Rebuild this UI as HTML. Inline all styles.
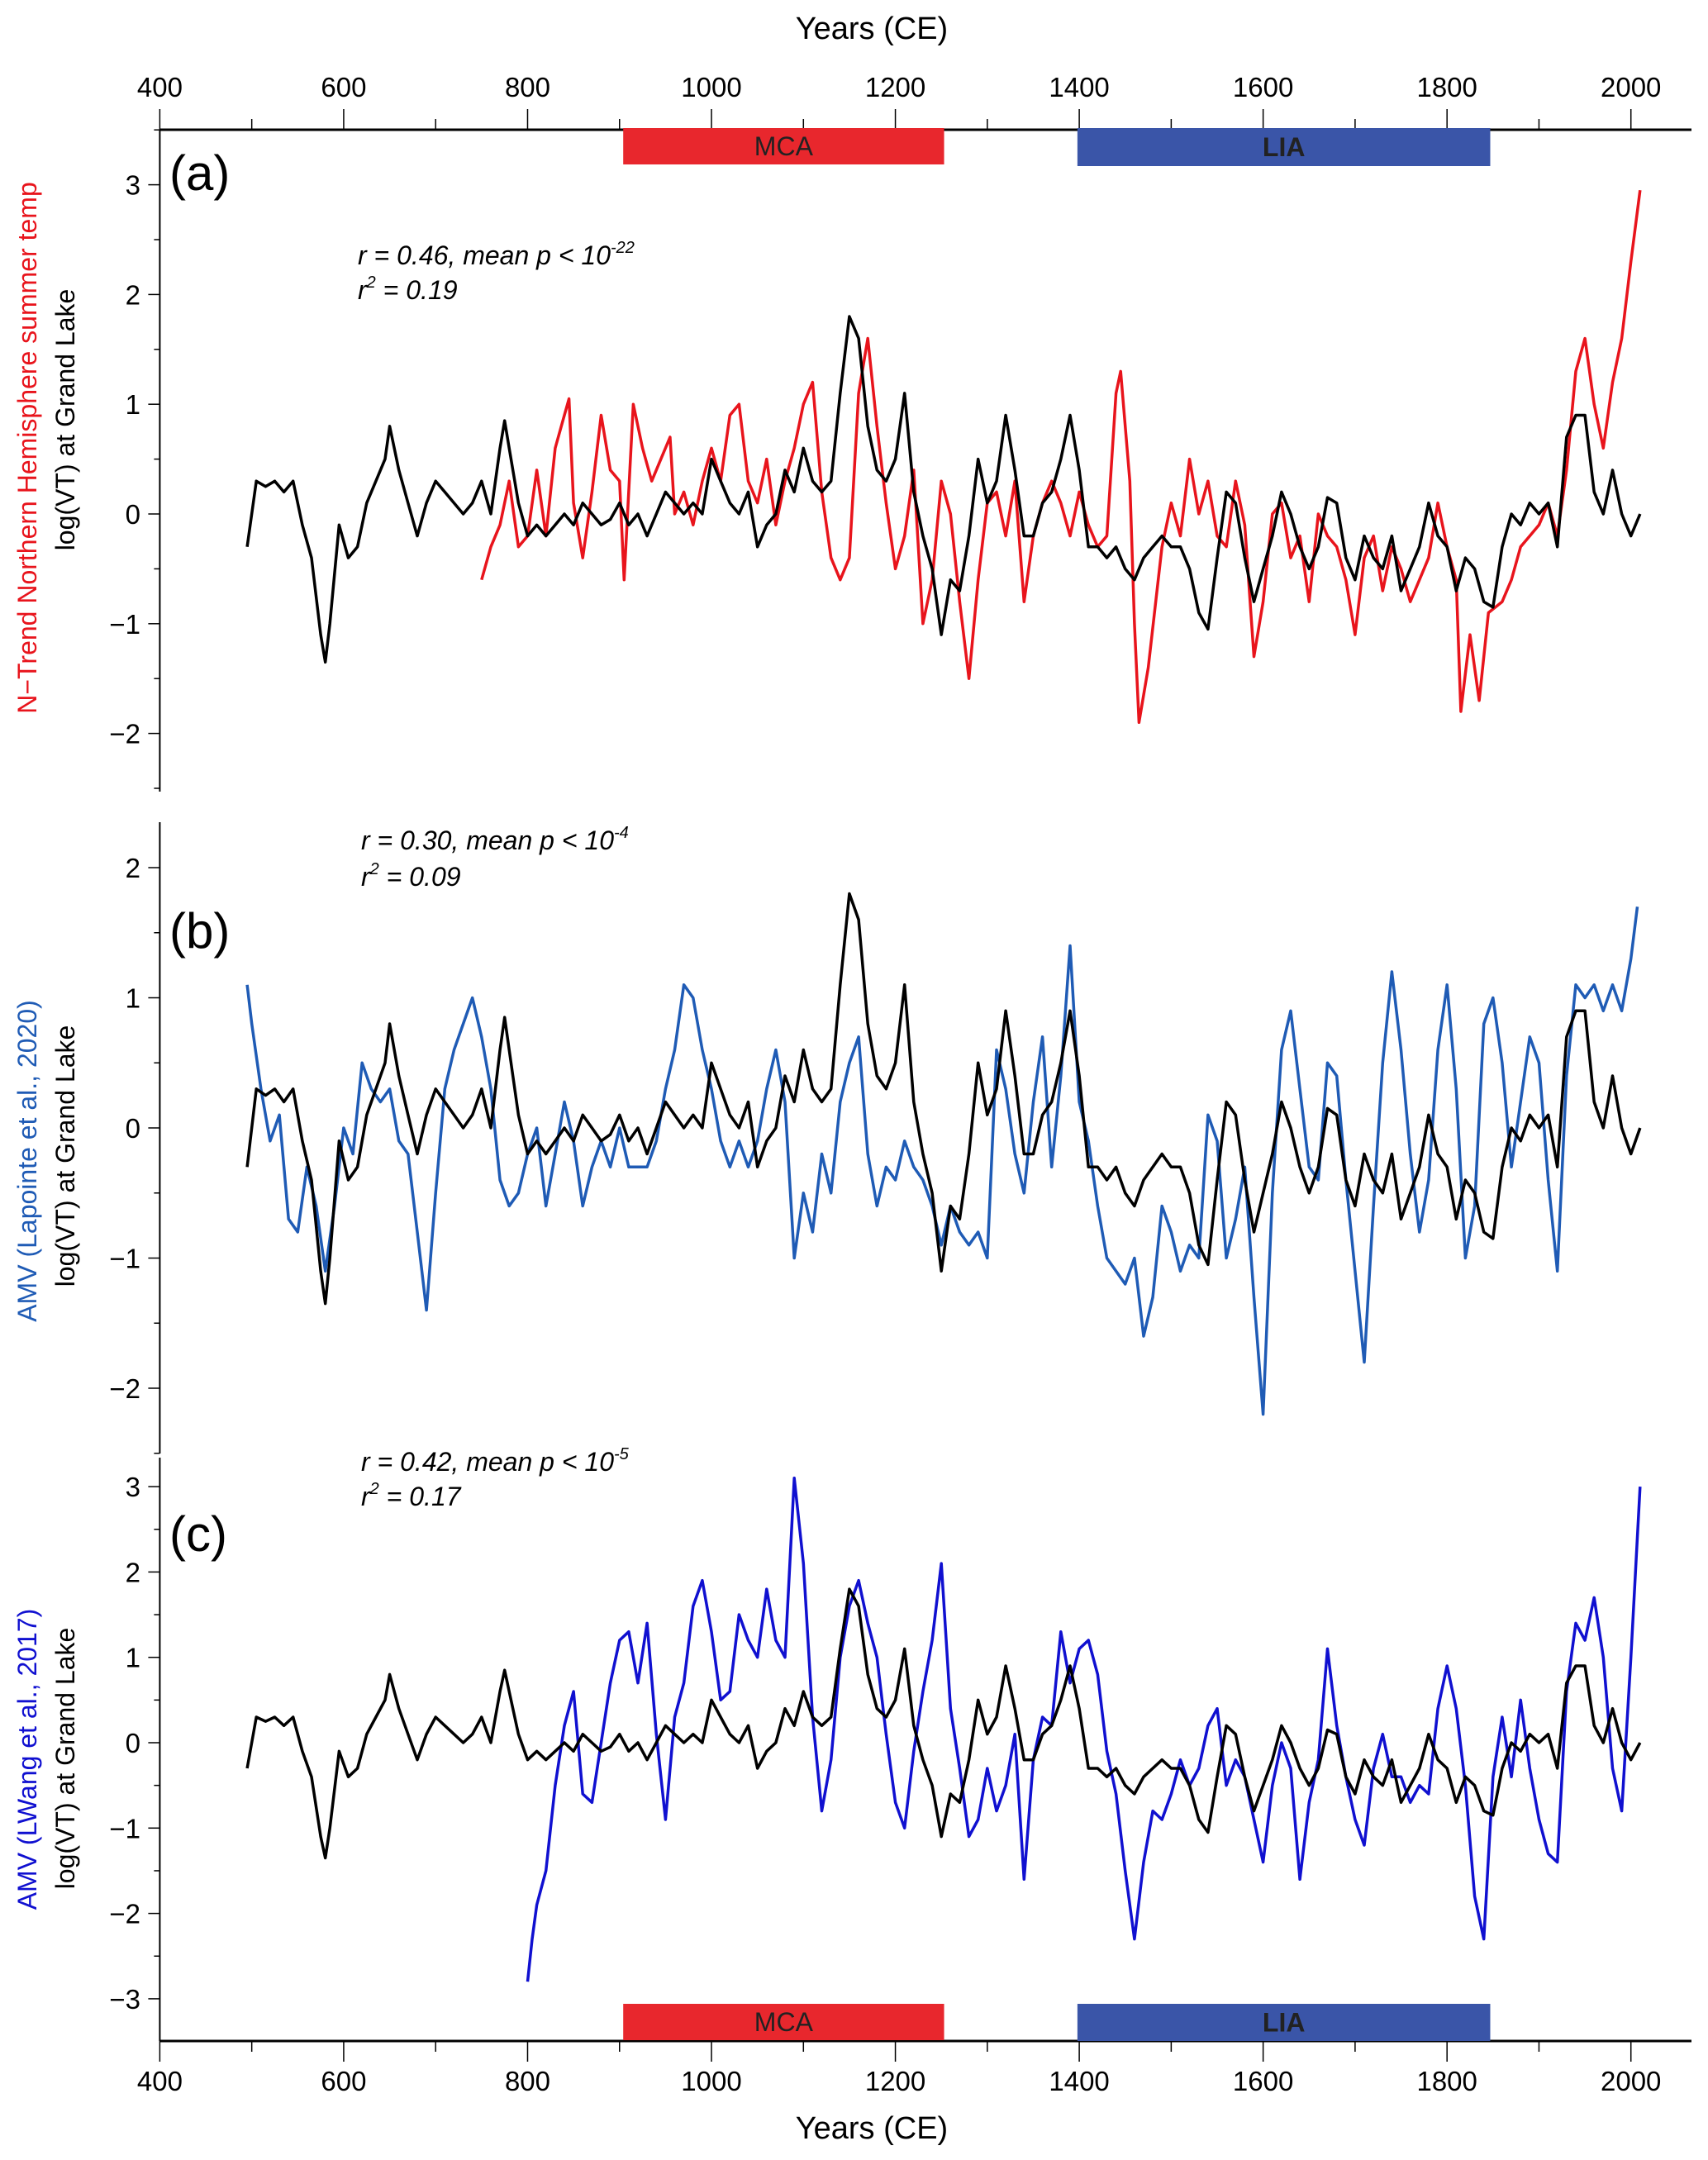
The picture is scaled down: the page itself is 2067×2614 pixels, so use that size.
<!DOCTYPE html>
<html><head><meta charset="utf-8"><style>
html,body{margin:0;padding:0;background:#fff}
svg{display:block;font-family:"Liberation Sans",sans-serif}
</style></head><body>
<svg id="chart" width="2067" height="2614" viewBox="0 0 2067 2614" xmlns="http://www.w3.org/2000/svg">
<g id="axes"></g>
<g id="series"></g>
<text x="1055" y="47" font-size="38" text-anchor="middle">Years (CE)</text>
<text x="1055" y="2588" font-size="38" text-anchor="middle">Years (CE)</text>
<text x="205" y="230" font-size="60">(a)</text>
<text x="205" y="1147" font-size="60">(b)</text>
<text x="205" y="1877" font-size="60">(c)</text>
<text x="433" y="320" font-size="32" font-style="italic">r = 0.46, mean p &lt; 10<tspan dy="-14" font-size="20">-22</tspan></text>
<text x="433" y="362" font-size="32" font-style="italic">r<tspan dy="-14" font-size="20">2</tspan><tspan dy="14"> = 0.19</tspan></text>
<text x="437" y="1028" font-size="32" font-style="italic">r = 0.30, mean p &lt; 10<tspan dy="-14" font-size="20">-4</tspan></text>
<text x="437" y="1072" font-size="32" font-style="italic">r<tspan dy="-14" font-size="20">2</tspan><tspan dy="14"> = 0.09</tspan></text>
<text x="437" y="1780" font-size="32" font-style="italic">r = 0.42, mean p &lt; 10<tspan dy="-14" font-size="20">-5</tspan></text>
<text x="437" y="1822" font-size="32" font-style="italic">r<tspan dy="-14" font-size="20">2</tspan><tspan dy="14"> = 0.17</tspan></text>
<text transform="translate(44,542) rotate(-90)" font-size="32" fill="#e8141c" text-anchor="middle">N−Trend Northern Hemisphere summer temp</text>
<text transform="translate(90,508) rotate(-90)" font-size="32" text-anchor="middle">log(VT) at Grand Lake</text>
<text transform="translate(44,1405) rotate(-90)" font-size="32" fill="#1f5bb5" text-anchor="middle">AMV (Lapointe et al., 2020)</text>
<text transform="translate(90,1399) rotate(-90)" font-size="32" text-anchor="middle">log(VT) at Grand Lake</text>
<text transform="translate(44,2129) rotate(-90)" font-size="32" fill="#1010d0" text-anchor="middle">AMV (LWang et al., 2017)</text>
<text transform="translate(90,2128) rotate(-90)" font-size="32" text-anchor="middle">log(VT) at Grand Lake</text>
</svg>
<script>
const blackYears=[495,505,515,525,535,545,555,565,575,580,585,595,605,615,625,635,645,650,660,670,680,690,700,710,720,730,740,750,760,770,775,780,790,800,810,820,830,840,850,860,870,880,890,900,910,920,930,940,950,960,970,980,990,1000,1010,1020,1030,1040,1050,1060,1070,1080,1090,1100,1110,1120,1130,1140,1150,1160,1170,1180,1190,1200,1210,1220,1230,1240,1250,1260,1270,1280,1290,1300,1310,1320,1330,1340,1350,1360,1370,1380,1390,1400,1410,1420,1430,1440,1450,1460,1470,1480,1490,1500,1510,1520,1530,1540,1550,1560,1570,1580,1590,1600,1610,1620,1630,1640,1650,1660,1670,1680,1690,1700,1710,1720,1730,1740,1750,1760,1770,1780,1790,1800,1810,1820,1830,1840,1850,1860,1870,1880,1890,1900,1910,1920,1930,1940,1950,1960,1970,1980,1990,2000,2010];
const blackValues=[-0.3,0.3,0.25,0.3,0.2,0.3,-0.1,-0.4,-1.1,-1.35,-1.0,-0.1,-0.4,-0.3,0.1,0.3,0.5,0.8,0.4,0.1,-0.2,0.1,0.3,0.2,0.1,0.0,0.1,0.3,0.0,0.6,0.85,0.6,0.1,-0.2,-0.1,-0.2,-0.1,0.0,-0.1,0.1,0.0,-0.1,-0.05,0.1,-0.1,0.0,-0.2,0.0,0.2,0.1,0.0,0.1,0.0,0.5,0.3,0.1,0.0,0.2,-0.3,-0.1,0.0,0.4,0.2,0.6,0.3,0.2,0.3,1.1,1.8,1.6,0.8,0.4,0.3,0.5,1.1,0.2,-0.2,-0.5,-1.1,-0.6,-0.7,-0.2,0.5,0.1,0.3,0.9,0.4,-0.2,-0.2,0.1,0.2,0.5,0.9,0.4,-0.3,-0.3,-0.4,-0.3,-0.5,-0.6,-0.4,-0.3,-0.2,-0.3,-0.3,-0.5,-0.9,-1.05,-0.4,0.2,0.1,-0.4,-0.8,-0.5,-0.2,0.2,0.0,-0.3,-0.5,-0.3,0.15,0.1,-0.4,-0.6,-0.2,-0.4,-0.5,-0.2,-0.7,-0.5,-0.3,0.1,-0.2,-0.3,-0.7,-0.4,-0.5,-0.8,-0.85,-0.3,0.0,-0.1,0.1,0.0,0.1,-0.3,0.7,0.9,0.9,0.2,0.0,0.4,0.0,-0.2,0.0];
const ntrendYears=[750,760,770,780,790,800,810,820,830,840,845,850,860,870,880,890,900,905,915,925,935,945,955,960,970,980,990,1000,1010,1020,1030,1040,1050,1060,1070,1080,1090,1100,1110,1120,1130,1140,1150,1160,1170,1180,1190,1200,1210,1220,1230,1240,1250,1260,1270,1280,1290,1300,1310,1320,1330,1340,1350,1360,1370,1380,1390,1400,1410,1420,1430,1440,1445,1455,1460,1465,1475,1490,1500,1510,1520,1530,1540,1550,1560,1570,1580,1590,1600,1610,1620,1630,1640,1650,1660,1670,1680,1690,1700,1710,1720,1730,1740,1750,1760,1770,1780,1790,1800,1810,1815,1825,1835,1845,1860,1870,1880,1890,1900,1910,1920,1930,1940,1950,1960,1970,1980,1990,2000,2010];
const ntrendValues=[-0.6,-0.3,-0.1,0.3,-0.3,-0.2,0.4,-0.2,0.6,0.9,1.05,0.1,-0.4,0.2,0.9,0.4,0.3,-0.6,1.0,0.6,0.3,0.5,0.7,0.0,0.2,-0.1,0.3,0.6,0.3,0.9,1.0,0.3,0.1,0.5,-0.1,0.3,0.6,1.0,1.2,0.2,-0.4,-0.6,-0.4,1.1,1.6,0.8,0.1,-0.5,-0.2,0.4,-1.0,-0.6,0.3,0.0,-0.8,-1.5,-0.6,0.1,0.2,-0.2,0.3,-0.8,-0.2,0.1,0.3,0.1,-0.2,0.2,-0.1,-0.3,-0.2,1.1,1.3,0.3,-1.0,-1.9,-1.4,-0.3,0.1,-0.2,0.5,0.0,0.3,-0.2,-0.3,0.3,-0.1,-1.3,-0.8,0.0,0.1,-0.4,-0.2,-0.8,0.0,-0.2,-0.3,-0.6,-1.1,-0.4,-0.2,-0.7,-0.3,-0.5,-0.8,-0.6,-0.4,0.1,-0.3,-0.6,-1.8,-1.1,-1.7,-0.9,-0.8,-0.6,-0.3,-0.2,-0.1,0.1,-0.2,0.4,1.3,1.6,1.0,0.6,1.2,1.6,2.3,2.95];
const lapYears=[495,500,510,520,530,540,550,560,570,580,590,600,610,620,630,640,650,660,670,680,690,700,710,720,730,740,750,760,770,780,790,800,810,820,830,840,850,860,870,880,890,900,910,920,930,940,950,960,970,980,990,1000,1010,1020,1030,1040,1050,1060,1070,1080,1090,1100,1110,1120,1130,1140,1150,1160,1170,1180,1190,1200,1210,1220,1230,1240,1250,1260,1270,1280,1290,1300,1310,1320,1330,1340,1350,1360,1370,1380,1390,1400,1410,1420,1430,1440,1450,1460,1470,1480,1490,1500,1510,1520,1530,1540,1550,1560,1570,1580,1590,1600,1610,1620,1630,1640,1650,1660,1670,1680,1690,1700,1710,1720,1730,1740,1750,1760,1770,1780,1790,1800,1810,1820,1830,1840,1850,1860,1870,1880,1890,1900,1910,1920,1930,1940,1950,1960,1970,1980,1990,2000,2007];
const lapValues=[1.1,0.8,0.3,-0.1,0.1,-0.7,-0.8,-0.3,-0.6,-1.1,-0.6,0.0,-0.2,0.5,0.3,0.2,0.3,-0.1,-0.2,-0.8,-1.4,-0.5,0.3,0.6,0.8,1.0,0.7,0.3,-0.4,-0.6,-0.5,-0.2,0.0,-0.6,-0.2,0.2,-0.1,-0.6,-0.3,-0.1,-0.3,0.0,-0.3,-0.3,-0.3,-0.1,0.3,0.6,1.1,1.0,0.6,0.3,-0.1,-0.3,-0.1,-0.3,-0.1,0.3,0.6,0.2,-1.0,-0.5,-0.8,-0.2,-0.5,0.2,0.5,0.7,-0.2,-0.6,-0.3,-0.4,-0.1,-0.3,-0.4,-0.6,-0.9,-0.6,-0.8,-0.9,-0.8,-1.0,0.6,0.3,-0.2,-0.5,0.2,0.7,-0.3,0.4,1.4,0.2,-0.1,-0.6,-1.0,-1.1,-1.2,-1.0,-1.6,-1.3,-0.6,-0.8,-1.1,-0.9,-1.0,0.1,-0.1,-1.0,-0.7,-0.3,-1.3,-2.2,-0.5,0.6,0.9,0.3,-0.3,-0.4,0.5,0.4,-0.4,-1.1,-1.8,-0.6,0.5,1.2,0.6,-0.2,-0.8,-0.4,0.6,1.1,0.3,-1.0,-0.6,0.8,1.0,0.5,-0.3,0.2,0.7,0.5,-0.4,-1.1,0.4,1.1,1.0,1.1,0.9,1.1,0.9,1.3,1.7];
const wangYears=[800,805,810,820,830,840,850,860,870,880,890,900,910,920,930,940,950,960,970,980,990,1000,1010,1020,1030,1040,1050,1060,1070,1080,1090,1100,1110,1120,1130,1140,1150,1160,1170,1180,1190,1200,1210,1220,1230,1240,1250,1260,1270,1280,1290,1300,1310,1320,1330,1340,1350,1360,1370,1380,1390,1400,1410,1420,1430,1440,1450,1460,1470,1480,1490,1500,1510,1520,1530,1540,1550,1560,1570,1580,1590,1600,1610,1620,1630,1640,1650,1660,1670,1680,1690,1700,1710,1720,1730,1740,1750,1760,1770,1780,1790,1800,1810,1820,1830,1840,1850,1860,1870,1880,1890,1900,1910,1920,1930,1940,1950,1960,1970,1980,1990,2000,2010];
const wangValues=[-2.8,-2.3,-1.9,-1.5,-0.5,0.2,0.6,-0.6,-0.7,0.0,0.7,1.2,1.3,0.7,1.4,0.1,-0.9,0.3,0.7,1.6,1.9,1.3,0.5,0.6,1.5,1.2,1.0,1.8,1.2,1.0,3.1,2.1,0.3,-0.8,-0.2,1.0,1.6,1.9,1.4,1.0,0.1,-0.7,-1.0,-0.1,0.6,1.2,2.1,0.4,-0.3,-1.1,-0.9,-0.3,-0.8,-0.5,0.1,-1.6,-0.2,0.3,0.2,1.3,0.7,1.1,1.2,0.8,-0.1,-0.6,-1.5,-2.3,-1.4,-0.8,-0.9,-0.6,-0.2,-0.5,-0.3,0.2,0.4,-0.5,-0.2,-0.4,-0.9,-1.4,-0.5,0.0,-0.3,-1.6,-0.7,-0.2,1.1,0.2,-0.4,-0.9,-1.2,-0.3,0.1,-0.4,-0.4,-0.7,-0.5,-0.6,0.4,0.9,0.4,-0.5,-1.8,-2.3,-0.4,0.3,-0.4,0.5,-0.3,-0.9,-1.3,-1.4,0.6,1.4,1.2,1.7,1.0,-0.3,-0.8,1.0,3.0];
const xTickLabels=[400,600,800,1000,1200,1400,1600,1800,2000];
const panelATicks=[3,2,1,0,-1,-2];
const panelBTicks=[2,1,0,-1,-2];
const panelCTicks=[3,2,1,0,-1,-2,-3];

const NS="http://www.w3.org/2000/svg";
const axesG=document.getElementById('axes');
const seriesG=document.getElementById('series');
function xs(year){return 193.4+(year-400)*1.1127;}
const panels={a:{y0:622,unit:132.8,top:157,bottom:958},b:{y0:1365,unit:157.5,top:995,bottom:1759},c:{y0:2109,unit:103.3,top:1764,bottom:2470}};
function ys(p,v){return panels[p].y0-v*panels[p].unit;}
function mk(tag,attrs,parent){const e=document.createElementNS(NS,tag);for(const k in attrs)e.setAttribute(k,attrs[k]);(parent||axesG).appendChild(e);return e;}
function fmt(v){return v<0?'\u2212'+Math.abs(v):String(v);}

[['top',157,-1,105],['bottom',2470,1,2530]].forEach(([pos,y,dir,ly])=>{
  const ax=mk('line',{x1:193.4,x2:2047,y1:y,y2:y,stroke:'#000','stroke-width':3});
  
  
  for(let yr=400;yr<=2050;yr+=100){
    const major=yr%200===0;
    const t=mk('line',{x1:xs(yr),x2:xs(yr),y1:y,y2:y+dir*(major?25:13),stroke:'#000','stroke-width':1.5});
    
    
  }
  xTickLabels.forEach(yr=>{
    const l=mk('text',{x:xs(yr),y:ly+(pos==='top'?12:0),'font-size':33,'text-anchor':'middle'});
    l.textContent=yr;
    
    
  });
});
[['top',155,199,201],['bottom',2425,2469,2470]].forEach(([pos,y1,y2m,y2l])=>{
  const m=mk('rect',{x:xs(904),y:y1,width:xs(1253)-xs(904),height:y2m-y1,fill:'#e8272d'});
  
  
  const mt=mk('text',{x:(xs(904)+xs(1253))/2,y:(y1+y2m)/2+11,'font-size':32,'text-anchor':'middle',fill:'#222'});
  mt.textContent='MCA';
  
  
  const l=mk('rect',{x:xs(1398),y:y1,width:xs(1847)-xs(1398),height:y2l-y1,fill:'#3a55a8'});
  
  
  const lt=mk('text',{x:(xs(1398)+xs(1847))/2,y:(y1+y2l)/2+11,'font-size':32,'font-weight':'bold','text-anchor':'middle',fill:'#222'});
  lt.textContent='LIA';
  
  
});
[['a',panelATicks],['b',panelBTicks],['c',panelCTicks]].forEach(([p,ticks])=>{
  const P=panels[p];
  const ax=mk('line',{x1:193.4,x2:193.4,y1:P.top,y2:P.bottom,stroke:'#000','stroke-width':2});
  
  
  const mx=Math.max(...ticks),mn=Math.min(...ticks);
  for(let v=mn-0.5;v<=mx+0.5;v+=0.5){
    const y=ys(p,v);
    if(y<P.top||y>P.bottom)continue;
    const major=Number.isInteger(v);
    const t=mk('line',{x1:193.4,x2:193.4-(major?14:7),y1:y,y2:y,stroke:'#000','stroke-width':1.5});
    
    
  }
  ticks.forEach(v=>{
    const l=mk('text',{x:170,y:ys(p,v)+12,'font-size':33,'text-anchor':'end'});
    l.textContent=fmt(v);
    
    
  });
});
function line(p,years,vals,color,name){
  const d=years.map((yr,i)=>(i?'L':'M')+xs(yr).toFixed(1)+' '+ys(p,vals[i]).toFixed(1)).join(' ');
  const e=mk('path',{d:d,fill:'none',stroke:color,'stroke-width':3.5,'stroke-linejoin':'round'},seriesG);
  
  
}
line('a',ntrendYears,ntrendValues,'#e8141c','panel-a-ntrend-line');
line('a',blackYears,blackValues,'#000','panel-a-logvt-line');
line('b',lapYears,lapValues,'#1f5bb5','panel-b-amv-lapointe-line');
line('b',blackYears,blackValues,'#000','panel-b-logvt-line');
line('c',wangYears,wangValues,'#1010d0','panel-c-amv-lwang-line');
line('c',blackYears,blackValues,'#000','panel-c-logvt-line');
</script>
</body></html>
